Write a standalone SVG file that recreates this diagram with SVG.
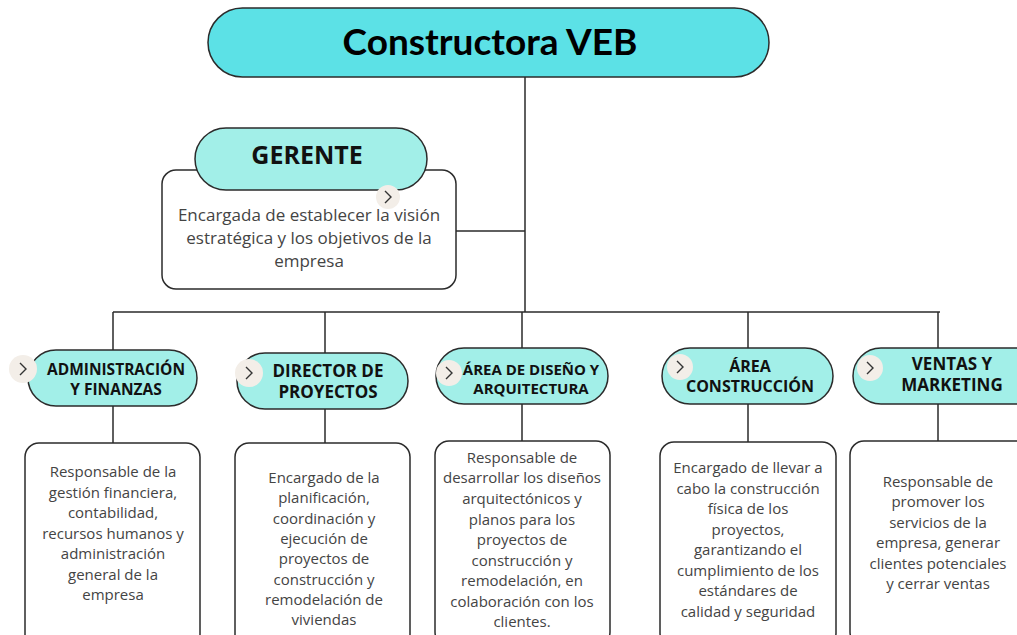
<svg xmlns="http://www.w3.org/2000/svg" width="1017" height="635" viewBox="0 0 1017 635">
<style>
.pill{stroke:#2b2b2b;stroke-width:1.5}
.top{fill:#5ce1e6}
.sub{fill:#a2efe8}
.box{fill:#fff;stroke:#2b2b2b;stroke-width:1.5}
.chev{fill:#f3eee8}
.chevp{fill:none;stroke:#333;stroke-width:1.4}
.line{stroke:#2b2b2b;stroke-width:1.5;fill:none}
.title{font-family:Lato,"Liberation Sans",sans-serif;font-weight:bold;font-size:37px;fill:#000;text-anchor:middle}
.head{font-family:"Open Sans","Liberation Sans",sans-serif;font-weight:bold;font-size:15.5px;fill:#111;text-anchor:middle}
.body{font-family:"Open Sans","Liberation Sans",sans-serif;font-size:15px;fill:#444;text-anchor:middle}
</style>
<rect width="1017" height="635" fill="#fff"/>
<g id="connectors">
<path class="line" d="M525 77V312M456 231H525M113 312H940M113 312V350M325 312V353M522 312V348M748 312V348M938 312V348"/>
<path class="line" d="M113 406V443M325 409V443M522 404V441M748 404V442M938 404V441"/>
</g>
<g id="title">
<rect class="pill top" x="208" y="8" width="561" height="69" rx="34.5"/>
<text class="title" x="490" y="55">Constructora VEB</text>
</g>
<g id="gerente">
<rect class="box" x="162" y="170" width="294" height="119" rx="14"/>
<rect class="pill sub" x="195" y="128" width="232" height="62" rx="31"/>
<text class="head" x="307" y="164" style="font-size:25px">GERENTE</text>
<circle class="chev" cx="388" cy="197" r="12"/>
<path class="chevp" d="M385 191l6 6-6 6"/>
<text class="body" x="309" y="221" style="font-size:17px">Encargada de establecer la visión</text>
<text class="body" x="309" y="244" style="font-size:17px">estratégica y los objetivos de la</text>
<text class="body" x="309" y="267" style="font-size:17px">empresa</text>
</g>
<g id="admin">
<rect class="pill sub" x="28" y="350" width="169" height="56" rx="28"/>
<circle class="chev" cx="23" cy="369" r="14"/>
<path class="chevp" d="M20 363l6 6-6 6"/>
<text class="head" x="116" y="375">ADMINISTRACIÓN</text>
<text class="head" x="116" y="395">Y FINANZAS</text>
<rect class="box" x="25" y="443" width="175" height="205" rx="14"/>
<text class="body" x="113" y="477">Responsable de la</text>
<text class="body" x="113" y="498">gestión financiera,</text>
<text class="body" x="113" y="518">contabilidad,</text>
<text class="body" x="113" y="539">recursos humanos y</text>
<text class="body" x="113" y="559">administración</text>
<text class="body" x="113" y="580">general de la</text>
<text class="body" x="113" y="600">empresa</text>
</g>
<g id="director">
<rect class="pill sub" x="237" y="353" width="171" height="56" rx="28"/>
<circle class="chev" cx="249" cy="373" r="14"/>
<path class="chevp" d="M246 367l6 6-6 6"/>
<text class="head" x="328" y="377" style="font-size:17px">DIRECTOR DE</text>
<text class="head" x="328" y="398" style="font-size:17px">PROYECTOS</text>
<rect class="box" x="235" y="443" width="175" height="205" rx="14"/>
<text class="body" x="324" y="483">Encargado de la</text>
<text class="body" x="324" y="503">planificación,</text>
<text class="body" x="324" y="524">coordinación y</text>
<text class="body" x="324" y="544">ejecución de</text>
<text class="body" x="324" y="564">proyectos de</text>
<text class="body" x="324" y="585">construcción y</text>
<text class="body" x="324" y="605">remodelación de</text>
<text class="body" x="324" y="625">viviendas</text>
</g>
<g id="diseno">
<rect class="pill sub" x="436" y="348" width="172" height="56" rx="28"/>
<text class="head" x="531" y="375" style="font-size:15px">ÁREA DE DISEÑO Y</text>
<text class="head" x="531" y="394" style="font-size:15px">ARQUITECTURA</text>
<circle class="chev" cx="449" cy="373" r="13"/>
<path class="chevp" d="M446 367l6 6-6 6"/>
<rect class="box" x="435" y="441" width="175" height="205" rx="14"/>
<text class="body" x="522" y="463">Responsable de</text>
<text class="body" x="522" y="483">desarrollar los diseños</text>
<text class="body" x="522" y="504">arquitectónicos y</text>
<text class="body" x="522" y="525">planos para los</text>
<text class="body" x="522" y="545">proyectos de</text>
<text class="body" x="522" y="566">construcción y</text>
<text class="body" x="522" y="586">remodelación, en</text>
<text class="body" x="522" y="607">colaboración con los</text>
<text class="body" x="522" y="627">clientes.</text>
</g>
<g id="construccion">
<rect class="pill sub" x="662" y="348" width="171" height="56" rx="28"/>
<circle class="chev" cx="680" cy="367" r="13"/>
<path class="chevp" d="M677 361l6 6-6 6"/>
<text class="head" x="750" y="372" style="font-size:16px">ÁREA</text>
<text class="head" x="750" y="392" style="font-size:16px">CONSTRUCCIÓN</text>
<rect class="box" x="660" y="442" width="176" height="205" rx="14"/>
<text class="body" x="748" y="473">Encargado de llevar a</text>
<text class="body" x="748" y="494">cabo la construcción</text>
<text class="body" x="748" y="514">física de los</text>
<text class="body" x="748" y="535">proyectos,</text>
<text class="body" x="748" y="555">garantizando el</text>
<text class="body" x="748" y="576">cumplimiento de los</text>
<text class="body" x="748" y="596">estándares de</text>
<text class="body" x="748" y="617">calidad y seguridad</text>
</g>
<g id="ventas">
<rect class="pill sub" x="853" y="348" width="190" height="56" rx="28"/>
<circle class="chev" cx="870" cy="368" r="13"/>
<path class="chevp" d="M867 362l6 6-6 6"/>
<text class="head" x="952" y="370" style="font-size:17px">VENTAS Y</text>
<text class="head" x="952" y="391" style="font-size:17px">MARKETING</text>
<rect class="box" x="850" y="441" width="190" height="205" rx="14"/>
<text class="body" x="938" y="487">Responsable de</text>
<text class="body" x="938" y="507">promover los</text>
<text class="body" x="938" y="528">servicios de la</text>
<text class="body" x="938" y="548">empresa, generar</text>
<text class="body" x="938" y="569">clientes potenciales</text>
<text class="body" x="938" y="589">y cerrar ventas</text>
</g>
</svg>
